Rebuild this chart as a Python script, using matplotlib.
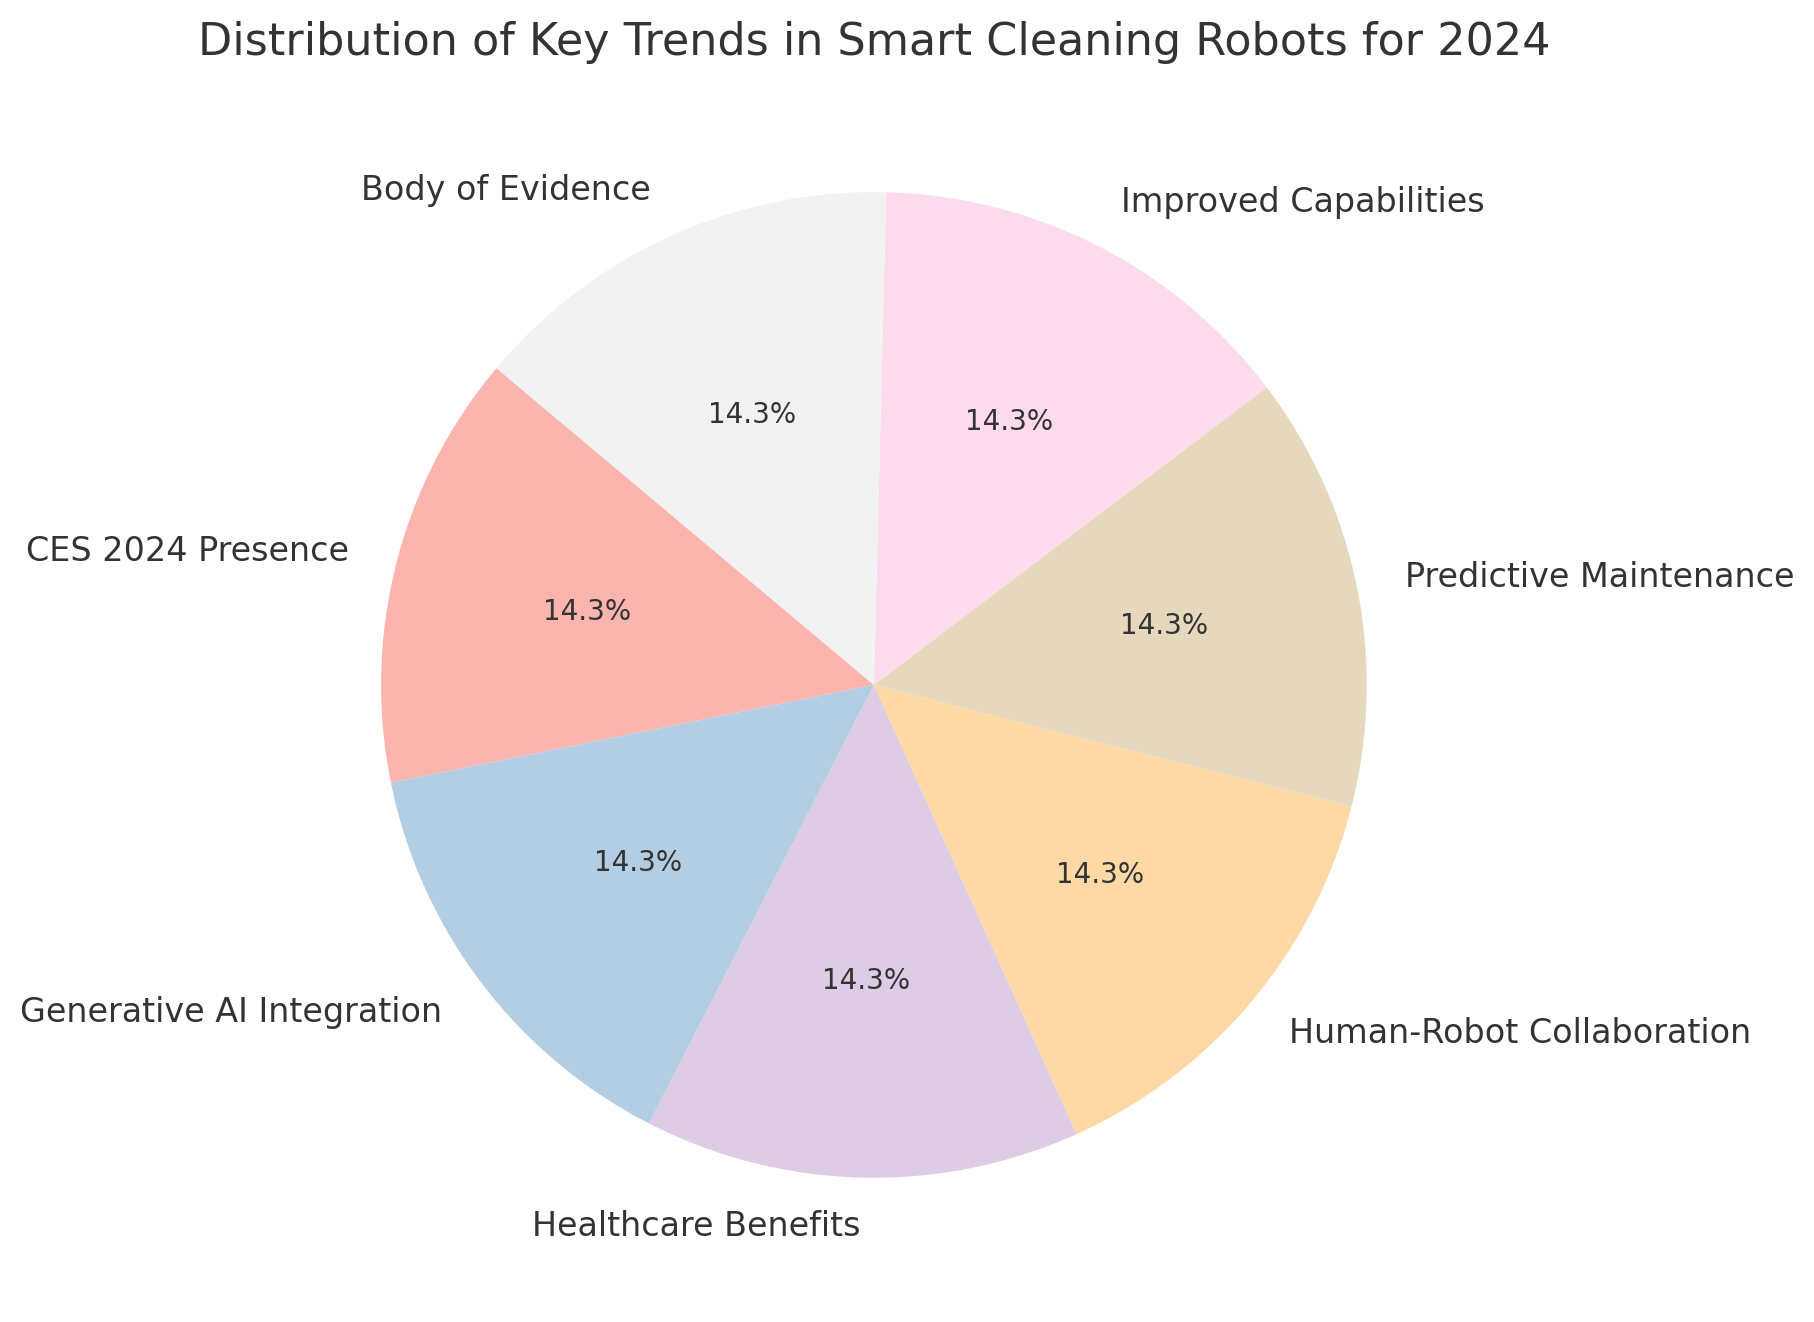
import matplotlib.pyplot as plt
import numpy as np

labels = [
    "CES 2024 Presence",
    "Generative AI Integration",
    "Healthcare Benefits",
    "Human-Robot Collaboration",
    "Predictive Maintenance",
    "Improved Capabilities",
    "Body of Evidence",
]
shares = [1, 1, 1, 1, 1, 1, 1]

text_color = "#333333"
colors = plt.cm.Pastel1(np.linspace(0, 1, len(labels)))

fig = plt.figure(figsize=(9.075, 6.61), dpi=200)
ax = fig.add_axes([0.1421, 0.0159, 0.6788, 0.932])

wedges, texts, autotexts = ax.pie(
    shares,
    labels=labels,
    colors=colors,
    autopct="%1.1f%%",
    startangle=140,
    textprops={"color": text_color},
)
for t in texts:
    t.set_fontsize(12)
for t in autotexts:
    t.set_fontsize(10)

ax.set_title("Distribution of Key Trends in Smart Cleaning Robots for 2024",
             fontsize=16, color=text_color, pad=5)

fig.savefig("out.png", dpi=200)
